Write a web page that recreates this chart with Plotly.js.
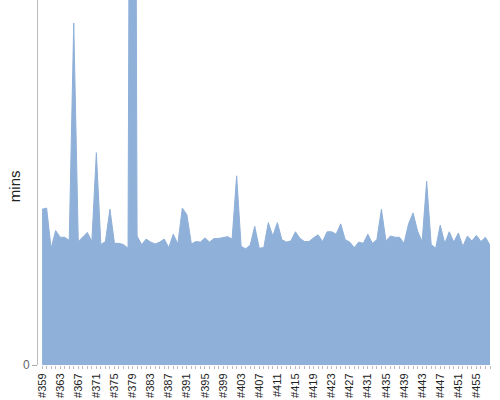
<!DOCTYPE html>
<html>
<head>
<meta charset="utf-8">
<script src="https://cdn.plot.ly/plotly-3.0.1.min.js"></script>
<style>html,body{margin:0;padding:0;background:#fff}#chart{width:500px;height:400px}</style>
</head>
<body>
<div id="chart"></div>
<script>
var firstRun = 359;
var runIds = [];
for (var k = 0; k < 100; k++) runIds.push('#' + (firstRun + k));

var mins = [
  25.6, 25.8, 19.2, 22.1, 21.0, 21.0, 20.5, 56.2, 20.3, 21.0,
  21.8, 20.3, 34.9, 19.8, 20.3, 25.6, 20.0, 20.0, 19.8, 19.2,
  243.6, 21.2, 19.8, 20.7, 20.2, 19.9, 20.2, 20.7, 19.3, 21.5,
  19.9, 25.8, 24.7, 19.9, 20.3, 20.2, 20.9, 20.2, 20.8, 20.8,
  21.0, 21.1, 20.7, 31.1, 19.5, 19.1, 19.7, 22.8, 19.2, 19.3,
  23.4, 21.2, 23.4, 20.6, 20.2, 20.4, 21.9, 20.8, 20.3, 20.3,
  20.9, 21.4, 20.3, 21.9, 21.9, 21.5, 23.2, 20.6, 20.2, 19.3,
  20.2, 20.0, 21.5, 20.0, 20.6, 25.6, 20.4, 21.2, 21.0, 21.0,
  20.0, 23.2, 25.0, 22.0, 20.3, 30.2, 19.8, 19.2, 23.0, 20.0,
  21.9, 20.2, 21.7, 19.5, 21.2, 20.4, 21.3, 20.3, 21.0, 19.7
];

var tickLabels = runIds.map(function (id, i) { return i % 4 === 0 ? id : ''; });

var trace = {
  type: 'scatter',
  mode: 'lines',
  x: runIds,
  y: mins,
  fill: 'tozeroy',
  fillcolor: 'rgb(143,176,217)',
  line: {color: 'rgb(143,176,217)', width: 1},
  hoverinfo: 'x+y'
};

var layout = {
  width: 500,
  height: 400,
  margin: {l: 38, r: 10, t: 0, b: 35},
  paper_bgcolor: '#fff',
  plot_bgcolor: '#fff',
  showlegend: false,
  font: {family: 'Liberation Sans, Arial, sans-serif'},
  xaxis: {
    type: 'category',
    range: [-0.9, 99],
    tickmode: 'array',
    tickvals: runIds,
    ticktext: tickLabels,
    tickangle: -90,
    ticks: 'outside',
    ticklen: 3,
    tickcolor: '#bbb',
    tickfont: {size: 11, color: '#222'},
    showline: false,
    showgrid: false,
    zeroline: false
  },
  yaxis: {
    range: [0, 60],
    tickmode: 'array',
    tickvals: [0],
    ticktext: ['0'],
    ticks: 'outside',
    ticklen: 5,
    tickcolor: '#aaa',
    tickfont: {size: 12, color: '#666'},
    showline: true,
    linecolor: '#bbb',
    linewidth: 1,
    showgrid: false,
    zeroline: false
  },
  annotations: [{
    text: 'mins',
    xref: 'paper', yref: 'paper',
    x: (14 - 38) / 452, y: 0.49,
    xanchor: 'center', yanchor: 'middle',
    textangle: -90,
    showarrow: false,
    font: {size: 15, color: '#222'}
  }]
};

Plotly.newPlot('chart', [trace], layout, {displayModeBar: false, staticPlot: true});
</script>
</body>
</html>
